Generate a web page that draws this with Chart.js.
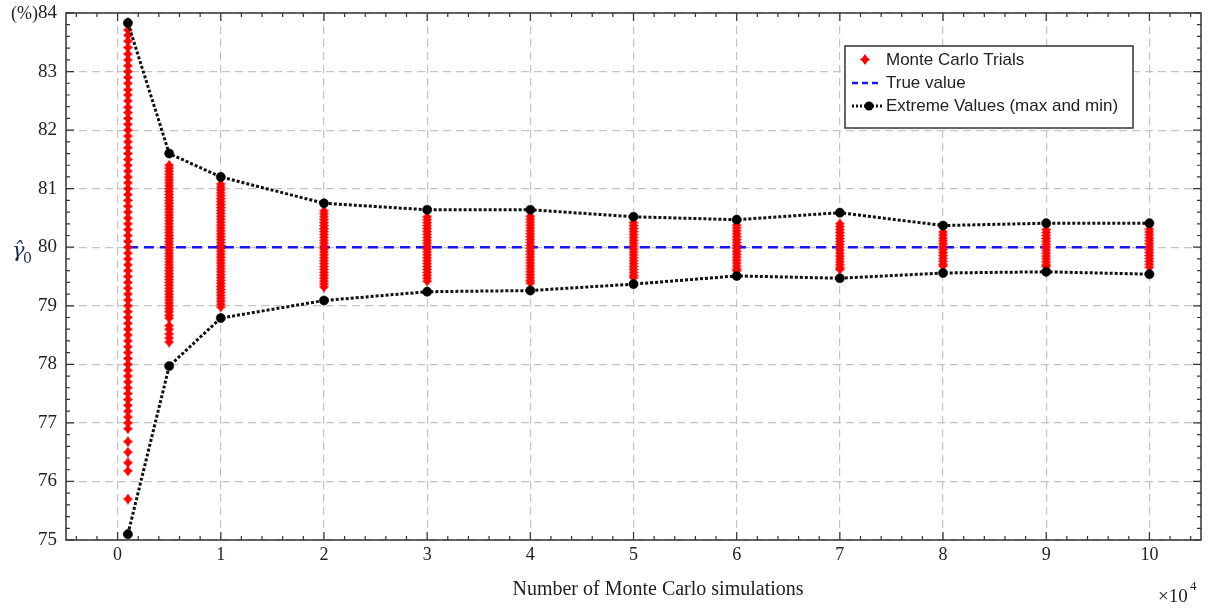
<!DOCTYPE html>
<html>
<head>
<meta charset="utf-8">
<script src="https://cdn.jsdelivr.net/npm/chart.js@4/dist/chart.umd.min.js"></script>
<style>
  html, body { margin: 0; padding: 0; background: #fff; }
  #wrap { width: 1218px; height: 610px; }
</style>
</head>
<body>
<div id="wrap"><canvas id="mc" width="1218" height="610"></canvas></div>
<script>
// simulation counts (x 10^4) and the sample of gamma_0 estimates at each count
const simCounts = [0.1, 0.5, 1, 2, 3, 4, 5, 6, 7, 8, 9, 10];

const trials01 = [83.83, 83.71, 83.62, 83.52, 83.41, 83.3, 83.2, 83.1, 83.0, 82.9, 82.8, 82.69, 82.6, 82.5, 82.39, 82.3,
  82.2, 82.1, 82.0, 81.9, 81.8, 81.7, 81.6, 81.5, 81.4, 81.3, 81.2, 81.1, 81.0, 80.9, 80.8, 80.7, 80.6, 80.5, 80.4,
  80.3, 80.2, 80.1, 80.0, 79.9, 79.8, 79.7, 79.6, 79.5, 79.4, 79.3, 79.2, 79.1, 79.0, 78.9, 78.8, 78.7, 78.6, 78.5,
  78.4, 78.3, 78.2, 78.1, 78.0, 77.9, 77.8, 77.7, 77.6, 77.5, 77.4, 77.3, 77.2, 77.1, 77.0, 76.9, 76.68, 76.5, 76.32,
  76.18, 75.7, 75.1];
const trials05 = [81.4, 81.35, 81.3, 81.25, 81.2, 81.15, 81.1, 81.05, 81.0, 80.95, 80.9, 80.85, 80.8, 80.75, 80.7, 80.65,
  80.6, 80.55, 80.5, 80.45, 80.4, 80.35, 80.3, 80.25, 80.2, 80.15, 80.1, 80.05, 80.0, 79.95, 79.9, 79.85, 79.8, 79.75,
  79.7, 79.65, 79.6, 79.55, 79.5, 79.45, 79.4, 79.35, 79.3, 79.25, 79.2, 79.15, 79.1, 79.05, 79.0, 78.95, 78.9, 78.84,
  78.79, 78.66, 78.6, 78.52, 78.45, 78.38];
const trials1 = [81.08, 81.03, 80.98, 80.93, 80.88, 80.83, 80.78, 80.73, 80.68, 80.63, 80.58, 80.53, 80.48, 80.43, 80.38,
  80.33, 80.28, 80.23, 80.18, 80.13, 80.08, 80.03, 79.98, 79.93, 79.88, 79.83, 79.78, 79.73, 79.68, 79.63, 79.58, 79.53,
  79.48, 79.43, 79.38, 79.33, 79.28, 79.23, 79.18, 79.13, 79.08, 79.03, 78.98];
const trials2 = [80.62, 80.57, 80.52, 80.47, 80.42, 80.37, 80.32, 80.27, 80.22, 80.17, 80.12, 80.07, 80.02, 79.97, 79.92,
  79.87, 79.82, 79.77, 79.72, 79.67, 79.62, 79.57, 79.52, 79.47, 79.42, 79.37, 79.32];
const trials3 = [80.52, 80.47, 80.42, 80.37, 80.32, 80.27, 80.22, 80.17, 80.12, 80.07, 80.02, 79.97, 79.92, 79.87, 79.82,
  79.77, 79.72, 79.67, 79.62, 79.57, 79.52, 79.47, 79.42];
const trials4 = [80.53, 80.48, 80.43, 80.38, 80.33, 80.28, 80.23, 80.18, 80.13, 80.08, 80.03, 79.98, 79.93, 79.88, 79.83,
  79.78, 79.73, 79.68, 79.63, 79.58, 79.53, 79.48, 79.43, 79.39];
const trials5 = [80.42, 80.37, 80.32, 80.27, 80.22, 80.17, 80.12, 80.07, 80.02, 79.97, 79.92, 79.87, 79.82, 79.77, 79.72,
  79.67, 79.62, 79.57, 79.52, 79.48];
const trials6 = [80.38, 80.33, 80.28, 80.23, 80.18, 80.13, 80.08, 80.03, 79.98, 79.93, 79.88, 79.83, 79.78, 79.73, 79.68,
  79.63, 79.6];
const trials7 = [80.4, 80.35, 80.3, 80.25, 80.2, 80.15, 80.1, 80.05, 80.0, 79.95, 79.9, 79.85, 79.8, 79.75, 79.7, 79.65, 79.62];
const trials8 = [80.26, 80.21, 80.16, 80.11, 80.06, 80.01, 79.96, 79.91, 79.86, 79.81, 79.76, 79.71, 79.68];
const trials9 = [80.3, 80.25, 80.2, 80.15, 80.1, 80.05, 80.0, 79.95, 79.9, 79.85, 79.8, 79.75, 79.7, 79.67];
const trials10 = [80.31, 80.26, 80.21, 80.16, 80.11, 80.06, 80.01, 79.96, 79.91, 79.86, 79.81, 79.76, 79.71, 79.66];
const trialColumns = [trials01, trials05, trials1, trials2, trials3, trials4, trials5, trials6, trials7, trials8, trials9, trials10];

const maxValues = [83.83, 81.6, 81.2, 80.75, 80.64, 80.64, 80.52, 80.47, 80.59, 80.37, 80.41, 80.41];
const minValues = [75.1, 77.97, 78.79, 79.09, 79.24, 79.26, 79.37, 79.51, 79.47, 79.56, 79.58, 79.54];
const trueValue = 80;

const xTicks = [0, 1, 2, 3, 4, 5, 6, 7, 8, 9, 10];
const yTicks = [75, 76, 77, 78, 79, 80, 81, 82, 83, 84];

const serif = '"Liberation Serif", "Times New Roman", serif';
const sans = '"Liberation Sans", Arial, sans-serif';

// four-pointed red star used for every trial
const star = document.createElement('canvas');
star.width = 10;
star.height = 11;
(() => {
  const c = star.getContext('2d');
  c.fillStyle = '#ff0000';
  c.beginPath();
  c.moveTo(5, 0);
  c.lineTo(7.4, 3.4);
  c.lineTo(10, 5.5);
  c.lineTo(7.4, 7.6);
  c.lineTo(5, 11);
  c.lineTo(2.6, 7.6);
  c.lineTo(0, 5.5);
  c.lineTo(2.6, 3.4);
  c.closePath();
  c.fill();
})();

const trialPoints = [];
simCounts.forEach((x, i) => trialColumns[i].forEach(y => trialPoints.push({ x, y })));
const toPoints = vals => simCounts.map((x, i) => ({ x, y: vals[i] }));

const extremeStyle = {
  showLine: true,
  borderColor: '#111',
  borderWidth: 3,
  borderDash: [3, 2],
  tension: 0,
  pointStyle: 'circle',
  pointRadius: 4.6,
  pointBorderWidth: 0.5,
  pointBackgroundColor: '#000',
  pointBorderColor: '#000',
  clip: false,
};

// inward ticks on all four sides plus the box
const frame = {
  id: 'frame',
  afterDraw(chart) {
    const { ctx, chartArea: a, scales: { x, y } } = chart;
    ctx.save();
    ctx.strokeStyle = '#333';
    ctx.lineWidth = 1.5;
    ctx.strokeRect(a.left, a.top, a.right - a.left, a.bottom - a.top);
    ctx.lineWidth = 1.2;
    ctx.beginPath();
    for (let i = -2; i <= 52; i++) {
      const px = x.getPixelForValue(i / 5);
      const len = i % 5 === 0 ? 8 : 4;
      ctx.moveTo(px, a.bottom); ctx.lineTo(px, a.bottom - len);
      ctx.moveTo(px, a.top); ctx.lineTo(px, a.top + len);
    }
    for (let i = 375; i <= 420; i++) {
      const py = y.getPixelForValue(i / 5);
      const len = i % 5 === 0 ? 8 : 4;
      ctx.moveTo(a.left, py); ctx.lineTo(a.left + len, py);
      ctx.moveTo(a.right, py); ctx.lineTo(a.right - len, py);
    }
    ctx.stroke();
    ctx.restore();
  }
};

// axis captions, legend
const captions = {
  id: 'captions',
  afterDraw(chart) {
    const { ctx } = chart;
    ctx.save();
    ctx.fillStyle = '#222';
    ctx.textBaseline = 'middle';
    ctx.font = '18px ' + serif;
    ctx.textAlign = 'right';
    ctx.fillText('(%)', 38, 14);

    ctx.font = '20px ' + serif;
    ctx.textAlign = 'center';
    ctx.fillText('Number of Monte Carlo simulations', 658, 590);

    ctx.textAlign = 'left';
    ctx.font = '19px ' + serif;
    ctx.fillText('\u00d710', 1158, 597);
    ctx.font = '13px ' + serif;
    ctx.fillText('4', 1190, 587);

    ctx.fillStyle = '#1c2a4a';
    ctx.font = 'italic 21px "DejaVu Serif", serif';
    ctx.fillText('\u03b3\u0302', 12, 252);
    ctx.font = '14px "DejaVu Serif", serif';
    ctx.fillText('0', 23, 259);

    // legend
    const lx = 845, ly = 46, lw = 288, lh = 82;
    ctx.fillStyle = '#fff';
    ctx.fillRect(lx, ly, lw, lh);
    ctx.strokeStyle = '#333';
    ctx.lineWidth = 1.5;
    ctx.strokeRect(lx, ly, lw, lh);

    ctx.drawImage(star, 860, 54);

    ctx.strokeStyle = '#1515ff';
    ctx.lineWidth = 2.5;
    ctx.setLineDash([6, 4]);
    ctx.beginPath(); ctx.moveTo(852, 83); ctx.lineTo(882, 83); ctx.stroke();

    ctx.strokeStyle = '#111';
    ctx.lineWidth = 3;
    ctx.setLineDash([2, 2]);
    ctx.beginPath(); ctx.moveTo(852, 106); ctx.lineTo(884, 106); ctx.stroke();
    ctx.setLineDash([]);
    ctx.fillStyle = '#000';
    ctx.beginPath(); ctx.arc(869, 106, 4.5, 0, Math.PI * 2); ctx.fill();

    ctx.fillStyle = '#222';
    ctx.font = '17px ' + sans;
    ctx.fillText('Monte Carlo Trials', 886, 60);
    ctx.fillText('True value', 886, 83);
    ctx.fillText('Extreme Values (max and min)', 886, 106);
    ctx.restore();
  }
};

new Chart(document.getElementById('mc'), {
  type: 'scatter',
  data: {
    datasets: [
      { label: 'max', data: toPoints(maxValues), ...extremeStyle },
      { label: 'min', data: toPoints(minValues), ...extremeStyle },
      {
        label: 'Monte Carlo Trials',
        data: trialPoints,
        pointStyle: star,
        pointRadius: 5,
        clip: false,
      },
      {
        label: 'True value',
        data: [{ x: simCounts[0], y: trueValue }, { x: simCounts[simCounts.length - 1], y: trueValue }],
        showLine: true,
        borderColor: '#1515ff',
        borderWidth: 2.5,
        borderDash: [10, 6],
        pointRadius: 0,
      },
    ],
  },
  options: {
    responsive: false,
    animation: false,
    devicePixelRatio: 1,
    layout: { padding: { top: 13, right: 17, left: 0, bottom: 0 } },
    plugins: { legend: { display: false }, tooltip: { enabled: false } },
    scales: {
      x: {
        type: 'linear',
        min: -0.5,
        max: 10.5,
        afterBuildTicks: s => { s.ticks = xTicks.map(value => ({ value })); },
        afterFit: s => { s.height = 70; s.paddingLeft = 0; s.paddingRight = 0; },
        ticks: { font: { family: serif, size: 18 }, color: '#222', padding: 4, maxRotation: 0, autoSkip: false },
        grid: { color: '#c4c4c4', lineWidth: 1.2, drawTicks: false },
        border: { display: false, dash: [8, 5] },
      },
      y: {
        type: 'linear',
        min: 75,
        max: 84,
        afterBuildTicks: s => { s.ticks = yTicks.map(value => ({ value })); },
        afterFit: s => { s.width = 66; s.paddingTop = 0; s.paddingBottom = 0; },
        ticks: { font: { family: serif, size: 19 }, color: '#222', padding: 9 },
        grid: { color: '#c4c4c4', lineWidth: 1.2, drawTicks: false },
        border: { display: false, dash: [8, 5] },
      },
    },
  },
  plugins: [frame, captions],
});
</script>
</body>
</html>
